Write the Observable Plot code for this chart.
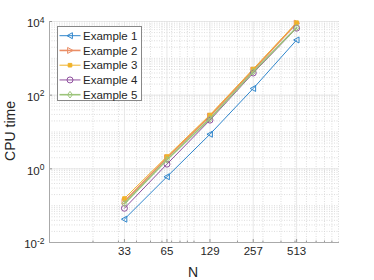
<!DOCTYPE html>
<html><head><meta charset="utf-8">
<script src="https://cdn.jsdelivr.net/npm/d3@7"></script>
<script src="https://cdn.jsdelivr.net/npm/@observablehq/plot@0.6"></script>
<style>body{margin:0;background:#fff}#c{width:374px;height:280px;overflow:hidden}</style>
</head><body><div id="c"></div>
<script>
const N = [33, 65, 129, 257, 513];
const seriesNames = ["Example 1", "Example 2", "Example 3", "Example 4", "Example 5"];
const ex1 = [0.043, 0.61, 8.7, 152, 3150];
const ex2 = [0.13, 2.0, 27, 480, 9000];
const ex3 = [0.156, 2.16, 29, 513, 9300];
const ex4 = [0.085, 1.34, 21, 400, 6600];
const ex5 = [0.114, 1.76, 23, 434, 6900];
const xTicks = [33, 65, 129, 257, 513];
const yTicks = [0.01, 1, 100, 10000];
const colors = ["#2f86cc", "#ea8e66", "#f0b22a", "#8f4f9e", "#9cc47a"];
const widths = [1, 1.6, 1, 1, 1.6];

const allSeries = [ex1, ex2, ex3, ex4, ex5];
const data = allSeries.flatMap((vals, i) => vals.map((v, j) => ({s: seriesNames[i], n: N[j], v})));

// marker shapes
const triL = {draw(ctx, size){const r=Math.sqrt(size/Math.PI); ctx.moveTo(-r,0); ctx.lineTo(r*0.8,-r); ctx.lineTo(r*0.8,r); ctx.closePath();}};
const triR = {draw(ctx, size){const r=Math.sqrt(size/Math.PI); ctx.moveTo(r,0); ctx.lineTo(-r*0.8,-r); ctx.lineTo(-r*0.8,r); ctx.closePath();}};
const sq = {draw(ctx, size){const r=Math.sqrt(size/Math.PI)*0.6; ctx.rect(-r,-r,2*r,2*r);}};
const circ = {draw(ctx, size){const r=Math.sqrt(size/Math.PI); ctx.moveTo(r,0); ctx.arc(0,0,r,0,2*Math.PI);}};
const dia = {draw(ctx, size){const r=Math.sqrt(size/Math.PI)*1.1; ctx.moveTo(0,-r); ctx.lineTo(r*0.75,0); ctx.lineTo(0,r); ctx.lineTo(-r*0.75,0); ctx.closePath();}};
const symbols = [triL, triR, sq, circ, dia];
const fills = ["none", "none", colors[2], "none", "none"];

const minorX = [20,30,40,50,60,70,80,90,100,200,300,400,500,600,700,800,900,1000];
const minorY = [-2,-1,0,1,2,3].flatMap(k => [1,2,3,4,5,6,7,8,9].map(m => m * Math.pow(10, k))).concat([10000]);

const marks = [
  Plot.ruleX(minorX, {stroke: "#d4d4d4", strokeDasharray: "1,1.5", strokeWidth: 0.8}),
  Plot.ruleY(minorY, {stroke: "#d4d4d4", strokeDasharray: "1,1.5", strokeWidth: 0.8}),
  Plot.ruleX(xTicks, {stroke: "#e2e2e2", strokeWidth: 0.8}),
  Plot.ruleY(yTicks, {stroke: "#e2e2e2", strokeWidth: 0.8}),
];
seriesNames.forEach((name, i) => {
  const d = data.filter(o => o.s === name);
  marks.push(Plot.line(d, {x: "n", y: "v", stroke: colors[i], strokeWidth: widths[i]}));
  marks.push(Plot.dot(d, {x: "n", y: "v", stroke: colors[i], fill: fills[i], symbol: symbols[i], r: 3, strokeWidth: 1}));
});
marks.push(
  Plot.axisX({ticks: xTicks, tickFormat: () => "", tickSize: -3, stroke: "#999", label: null}),
  Plot.axisX({ticks: minorX.filter(v => v < 1000), tickFormat: () => "", tickSize: -1.5, stroke: "#999", label: null}),
  Plot.axisY({ticks: yTicks, tickFormat: () => "", tickSize: -3, stroke: "#999", label: null}),
  Plot.text(xTicks, {x: d => d, frameAnchor: "bottom", dy: 12, text: d => String(d), fontSize: 11.5, fill: "#262626"}),
  Plot.text(yTicks, {y: d => d, frameAnchor: "left", dx: -5, dy: 2, textAnchor: "end", text: d => String(Math.round(Math.log10(d))), fontSize: 11.5, fill: "#262626", className: "ylab"}),
  Plot.frame({anchor: "left", stroke: "#aaa"}),
  Plot.frame({anchor: "bottom", stroke: "#aaa"})
);

const chart = Plot.plot({
  width: 374, height: 280,
  marginLeft: 49, marginRight: 36, marginTop: 21, marginBottom: 38,
  style: {fontFamily: "'Liberation Sans', Arial, sans-serif", background: "#fff", overflow: "visible"},
  x: {type: "log", domain: [10, 1000], axis: null},
  y: {type: "log", domain: [0.01, 10000], axis: null},
  marks
});

const svg = d3.select(chart);
// superscript tick labels: find the y label texts by their content position (anchored end, left of frame)
svg.selectAll("text").filter(function(){
  return /^-?\d$/.test(this.textContent) && this.closest("g") && this.closest("g").getAttribute("text-anchor") === "end";
}).each(function(){
  const e = this.textContent;
  const t = d3.select(this);
  t.text("10");
  t.append("tspan").attr("dy", "-0.55em").attr("font-size", "8.5px").text(e);
});

// axis titles
svg.append("text").attr("x", 193).attr("y", 277).attr("text-anchor", "middle")
  .attr("font-size", 14).attr("fill", "#262626").text("N");
svg.append("text").attr("transform", "translate(15,131) rotate(-90)").attr("text-anchor", "middle")
  .attr("font-size", 14).attr("fill", "#262626").text("CPU time");

// legend
const lg = svg.append("g").attr("font-size", 11.5).attr("text-anchor", "start");
lg.append("rect").attr("x", 57.5).attr("y", 26.5).attr("width", 84).attr("height", 74)
  .attr("fill", "#fff").attr("stroke", "#888").attr("stroke-width", 1);
seriesNames.forEach((name, i) => {
  const y = 35.7 + i * 14.75;
  lg.append("line").attr("x1", 59.5).attr("x2", 80.5).attr("y1", y).attr("y2", y)
    .attr("stroke", colors[i]).attr("stroke-width", widths[i]);
  lg.append("path").attr("transform", `translate(70,${y})`)
    .attr("d", d3.symbol().type(symbols[i]).size(Math.PI * 9)())
    .attr("fill", fills[i] === "none" ? "none" : colors[i]).attr("stroke", colors[i]);
  lg.append("text").attr("x", 83).attr("y", y).attr("dy", "0.36em").attr("fill", "#262626").text(name);
});

document.getElementById("c").appendChild(chart);
</script>
</body></html>
